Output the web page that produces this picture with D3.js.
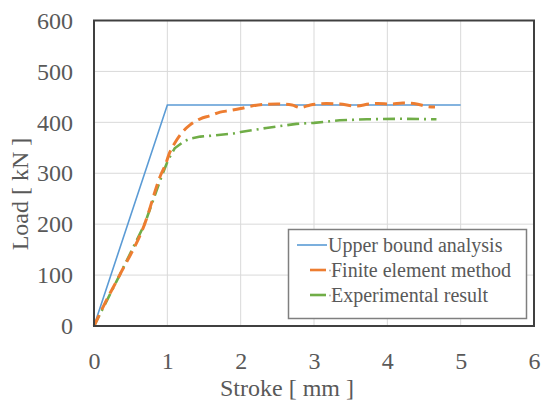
<!DOCTYPE html>
<html><head><meta charset="utf-8">
<script src="https://cdn.jsdelivr.net/npm/d3@7"></script>
<style>body{margin:0;background:#fff}svg{display:block}</style>
</head><body><svg id="c" width="542" height="405"></svg>
<script>
const xTicks = [0,1,2,3,4,5,6];
const yTicks = [0,100,200,300,400,500,600];
const seriesNames = ["Upper bound analysis","Finite element method","Experimental result"];
const upperBound = [[0,0],[1,434],[5,434]];
const femResult = [[0,0],[0.15,45],[0.35,100],[0.69,200],[0.92,300],[0.97,315],[1.03,340],[1.10,359],[1.2,380],[1.31,395],[1.45,407],[1.58,413],[1.72,420],[1.85,423],[2.0,427],[2.15,432],[2.31,435],[2.5,436],[2.7,434],[2.81,429],[2.95,434],[3.17,437],[3.35,436],[3.58,432],[3.75,436],[3.87,437],[4.05,436],[4.21,438],[4.4,436],[4.55,431],[4.65,430]];
const expResult = [[0,0],[0.35,100],[0.69,200],[0.92,293],[1.01,326],[1.10,349],[1.22,362],[1.31,368],[1.45,372],[1.54,373],[1.9,378],[2.0,381],[2.35,389],[2.76,397],[3.0,399],[3.35,404],[3.72,406],[4.17,407],[4.67,406]];

const FONT = '"Liberation Serif","Tinos","Times New Roman",serif';
const TXT = "#595959";
const svg = d3.select("#c");
const L=94, R=534, T=20.5, B=326;
const x = d3.scaleLinear().domain([0,6]).range([L,R]);
const y = d3.scaleLinear().domain([0,600]).range([B,T]);

// grid
svg.append("g").selectAll("line").data(xTicks.slice(1,-1)).join("line")
  .attr("x1",d=>x(d)).attr("x2",d=>x(d)).attr("y1",T).attr("y2",B)
  .attr("stroke","#d9d9d9").attr("stroke-width",1);
svg.append("g").selectAll("line").data(yTicks.slice(1,-1)).join("line")
  .attr("x1",L).attr("x2",R).attr("y1",d=>y(d)).attr("y2",d=>y(d))
  .attr("stroke","#d9d9d9").attr("stroke-width",1);

// axes labels
const xa = svg.append("g").attr("transform",`translate(0,${B})`)
  .call(d3.axisBottom(x).tickValues(xTicks).tickSize(0).tickPadding(26).tickFormat(d3.format("d")));
xa.select(".domain").remove();
xa.selectAll("text").style("font-size","24px").style("fill",TXT).style("font-family",FONT);
const ya = svg.append("g").attr("transform",`translate(${L},0)`)
  .call(d3.axisLeft(y).tickValues(yTicks).tickSize(0).tickPadding(21).tickFormat(d3.format("d")));
ya.select(".domain").remove();
ya.selectAll("text").style("font-size","24px").style("fill",TXT).style("font-family",FONT);

const line = d3.line().x(d=>x(d[0])).y(d=>y(d[1]));
const g = svg.append("g");
g.append("path").datum(upperBound).attr("d",line).attr("fill","none")
  .attr("stroke","#5b9bd5").attr("stroke-width",1.6);
g.append("path").datum(expResult).attr("d",line).attr("fill","none")
  .attr("stroke","#70ad47").attr("stroke-width",2.6).attr("stroke-dasharray","12,5,2,5");
g.append("path").datum(femResult).attr("d",d3.line().curve(d3.curveMonotoneX).x(d=>x(d[0])).y(d=>y(d[1]))).attr("fill","none")
  .attr("stroke","#ed7d31").attr("stroke-width",3).attr("stroke-dasharray","12,6");

// frame
svg.append("rect").attr("x",L).attr("y",T).attr("width",R-L).attr("height",B-T)
  .attr("fill","none").attr("stroke","#404040").attr("stroke-width",2);

// legend
const lg = svg.append("g");
lg.append("rect").attr("x",288.5).attr("y",229.5).attr("width",238).attr("height",89)
  .attr("fill","#fff").attr("stroke","#7f7f7f").attr("stroke-width",1.5);
const colors = ["#5b9bd5","#ed7d31","#70ad47"];
const rows = lg.selectAll("g.r").data(seriesNames).join("g").attr("class","r")
  .attr("transform",(d,i)=>`translate(0,${245+i*25})`);
rows.each(function(d,i){
  const r = d3.select(this);
  if(i===0){
    r.append("line").attr("x1",297).attr("x2",327).attr("y1",0).attr("y2",0)
      .attr("stroke",colors[i]).attr("stroke-width",1.6);
  } else {
    r.append("line").attr("x1",310).attr("x2",326).attr("y1",0).attr("y2",0)
      .attr("stroke",colors[i]).attr("stroke-width",2.6);
    r.append("circle").attr("cx",330).attr("cy",0.5).attr("r",0.9).attr("fill","#aaa");
  }
  r.append("text").attr("x",i===0?328:331).attr("y",7)
    .style("font-size","20px").style("font-family",FONT).style("fill",TXT).text(d);
});

svg.append("text").attr("x",287).attr("y",396).attr("text-anchor","middle")
  .style("font-size","24px").style("font-family",FONT).style("fill",TXT).text("Stroke [ mm ]");
svg.append("text").attr("transform","translate(28,194) rotate(-90)").attr("text-anchor","middle")
  .style("font-size","24px").style("font-family",FONT).style("fill",TXT).text("Load [ kN ]");
</script></body></html>
